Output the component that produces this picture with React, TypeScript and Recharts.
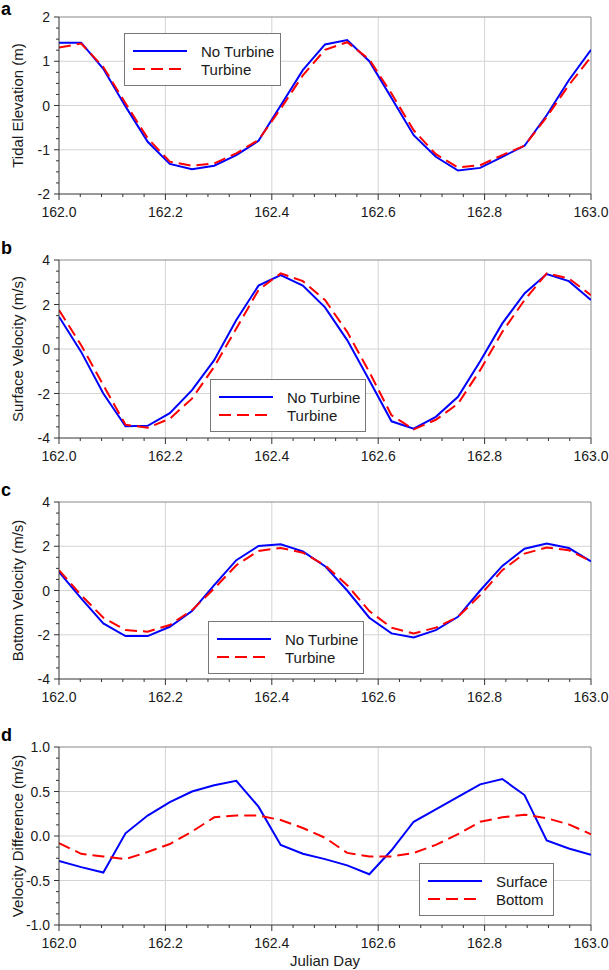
import React from 'react'
import { LineChart, Line, XAxis, YAxis, ReferenceLine } from 'recharts'

// hourly samples over Julian day 162
const julianDay = [
  162.0, 162.0417, 162.0833, 162.125, 162.1667, 162.2083, 162.25, 162.2917, 162.3333,
  162.375, 162.4167, 162.4583, 162.5, 162.5417, 162.5833, 162.625, 162.6667, 162.7083,
  162.75, 162.7917, 162.8333, 162.875, 162.9167, 162.9583, 163.0
]

const elevNoTurbine = [1.42, 1.42, 0.83, -0.02, -0.82, -1.32, -1.44, -1.36, -1.12, -0.8, 0.0, 0.8, 1.38, 1.48, 1.0, 0.17, -0.67, -1.16, -1.47, -1.41, -1.16, -0.91, -0.22, 0.57, 1.26]
const elevTurbine = [1.31, 1.4, 0.87, 0.05, -0.74, -1.27, -1.36, -1.31, -1.08, -0.78, -0.07, 0.68, 1.26, 1.43, 1.04, 0.27, -0.56, -1.1, -1.4, -1.35, -1.12, -0.91, -0.26, 0.46, 1.1]

const surfNoTurbine = [1.45, -0.13, -2.0, -3.47, -3.45, -2.88, -1.85, -0.5, 1.3, 2.85, 3.32, 2.85, 1.87, 0.4, -1.4, -3.25, -3.58, -3.05, -2.15, -0.55, 1.15, 2.5, 3.37, 3.05, 2.2]
const surfTurbine = [1.75, 0.17, -1.63, -3.4, -3.54, -3.13, -2.23, -0.8, 0.92, 2.65, 3.4, 3.05, 2.2, 0.77, -1.03, -2.98, -3.61, -3.18, -2.46, -0.95, 0.77, 2.2, 3.4, 3.17, 2.42]

const bottomNoTurbine = [0.84, -0.36, -1.49, -2.06, -2.06, -1.64, -0.93, 0.24, 1.37, 2.01, 2.09, 1.77, 1.1, 0.0, -1.23, -1.94, -2.12, -1.79, -1.19, 0.0, 1.11, 1.89, 2.12, 1.92, 1.32]
const bottomTurbine = [0.92, -0.21, -1.23, -1.79, -1.86, -1.56, -0.89, 0.09, 1.14, 1.79, 1.92, 1.71, 1.14, 0.24, -0.93, -1.68, -1.94, -1.68, -1.19, -0.21, 0.92, 1.67, 1.94, 1.82, 1.32]

const diffSurface = [-0.28, -0.35, -0.41, 0.03, 0.23, 0.38, 0.5, 0.57, 0.62, 0.33, -0.1, -0.2, -0.26, -0.33, -0.43, -0.16, 0.16, 0.3, 0.44, 0.58, 0.64, 0.46, -0.05, -0.14, -0.21]
const diffBottom = [-0.08, -0.2, -0.23, -0.26, -0.18, -0.09, 0.05, 0.21, 0.23, 0.23, 0.18, 0.09, -0.02, -0.19, -0.23, -0.23, -0.19, -0.1, 0.02, 0.16, 0.21, 0.24, 0.2, 0.13, 0.02]

const xMajorTicks = [162.0, 162.2, 162.4, 162.6, 162.8, 163.0]
const elevTicks = [-2, -1, 0, 1, 2]
const velTicks = [-4, -2, 0, 2, 4]
const diffTicks = [-1.0, -0.5, 0.0, 0.5, 1.0]

const FONT = '"Liberation Sans", Arial, sans-serif'
const BLUE = '#0000ff'
const RED = '#ff0000'
const DASH = '12 6'

function steps(lo: number, hi: number, step: number) {
  const out: number[] = []
  const n = Math.round((hi - lo) / step)
  for (let i = 0; i <= n; i++) out.push(+(lo + i * step).toFixed(4))
  return out
}

const isMajor = (majors: number[], v: number) => majors.some((m) => Math.abs(m - v) < 1e-6)

function makeXTick(majors: number[]) {
  return (props: any) => {
    const { x, y, payload } = props
    const major = isMajor(majors, payload.value)
    return (
      <g>
        <line x1={x} x2={x} y1={y} y2={y + (major ? 6 : 3)} stroke="#333" />
        {major && (
          <text x={x} y={y + 18} dy={5} textAnchor="middle" fontSize={14} fontFamily={FONT} fill="#1a1a1a">
            {payload.value.toFixed(1)}
          </text>
        )}
      </g>
    )
  }
}

function makeYTick(majors: number[], digits: number) {
  return (props: any) => {
    const { x, y, payload } = props
    const major = isMajor(majors, payload.value)
    return (
      <g>
        <line x1={x} x2={x - (major ? 5 : 3)} y1={y} y2={y} stroke="#333" />
        {major && (
          <text x={x - 9} y={y} dy={5} textAnchor="end" fontSize={14} fontFamily={FONT} fill="#1a1a1a">
            {payload.value.toFixed(digits)}
          </text>
        )}
      </g>
    )
  }
}

interface SeriesDef {
  key: string
  name: string
  values: number[]
  color: string
  dash?: string
}

interface PanelProps {
  letter: string
  yLabel: string
  series: SeriesDef[]
  yMajor: number[]
  yMinorStep: number
  digits: number
  plotTop: number
  plotHeight: number
  legend: { left: number; top: number; width: number }
  xLabel?: string
}

function Panel({ letter, yLabel, series, yMajor, yMinorStep, digits, plotTop, plotHeight, legend, xLabel }: PanelProps) {
  const data = julianDay.map((d, i) => {
    const row: Record<string, number> = { day: d }
    series.forEach((s) => (row[s.key] = s.values[i]))
    return row
  })
  const yMin = yMajor[0]
  const yMax = yMajor[yMajor.length - 1]
  const top = plotTop - 10
  return (
    <>
      <div
        style={{
          position: 'absolute', left: 1, top: Math.max(plotTop - 21, 0), fontFamily: FONT,
          fontWeight: 'bold', fontSize: 18, lineHeight: '18px', color: '#000'
        }}
      >
        {letter}
      </div>
      <div style={{ position: 'absolute', left: 0, top }}>
        <LineChart
          width={609}
          height={10 + plotHeight + 50}
          data={data}
          margin={{ top: 10, right: 18, bottom: 0, left: 0 }}
        >
          <XAxis
            dataKey="day"
            type="number"
            domain={[162, 163]}
            ticks={steps(162, 163, 0.04)}
            interval={0}
            allowDataOverflow
            height={50}
            tickSize={0}
            tickMargin={0}
            tickLine={false}
            axisLine={{ stroke: '#333' }}
            tick={makeXTick(xMajorTicks)}
            label={
              xLabel
                ? {
                    content: (p: any) => {
                      const vb = p.viewBox
                      return (
                        <text x={vb.x + vb.width / 2} y={vb.y + 36} dy={5} textAnchor="middle" fontSize={15} fontFamily={FONT} fill="#1a1a1a">
                          {xLabel}
                        </text>
                      )
                    }
                  }
                : undefined
            }
          />
          <YAxis
            type="number"
            domain={[yMin, yMax]}
            ticks={steps(yMin, yMax, yMinorStep)}
            interval={0}
            allowDataOverflow
            width={59}
            tickSize={0}
            tickMargin={0}
            tickLine={false}
            axisLine={{ stroke: '#333' }}
            tick={makeYTick(yMajor, digits)}
            label={{
              content: (p: any) => {
                const vb = p.viewBox
                const cx = 18
                const cy = vb.y + vb.height / 2
                return (
                  <text x={cx} y={cy} dy={5} textAnchor="middle" transform={`rotate(-90 ${cx} ${cy})`} fontSize={15} fontFamily={FONT} fill="#1a1a1a">
                    {yLabel}
                  </text>
                )
              }
            }}
          />
          {xMajorTicks.slice(1, -1).map((v) => (
            <ReferenceLine key={'gx' + v} x={v} stroke="#d4d4d4" />
          ))}
          {yMajor.slice(1, -1).map((v) => (
            <ReferenceLine key={'gy' + v} y={v} stroke="#d4d4d4" />
          ))}
          <ReferenceLine y={yMax} stroke="#888" />
          <ReferenceLine x={163} stroke="#888" />
          {series.map((s) => (
            <Line
              key={s.key}
              dataKey={s.key}
              name={s.name}
              type="linear"
              stroke={s.color}
              strokeWidth={2}
              strokeDasharray={s.dash}
              dot={false}
              activeDot={false}
              isAnimationActive={false}
            />
          ))}
        </LineChart>
      </div>
      <div
        style={{
          position: 'absolute', left: legend.left, top: legend.top, width: legend.width, height: 53,
          boxSizing: 'border-box', border: '1px solid #777', background: '#fff', fontFamily: FONT, fontSize: 15
        }}
      >
        {series.map((s, i) => (
          <div key={s.key} style={{ position: 'absolute', left: 7, top: 8 + i * 18, height: 18, display: 'flex', alignItems: 'center' }}>
            <svg width={56} height={18}>
              <line x1={1} x2={55} y1={9} y2={9} stroke={s.color} strokeWidth={2} strokeDasharray={s.dash} />
            </svg>
            <span style={{ marginLeft: 13, color: '#1a1a1a' }}>{s.name}</span>
          </div>
        ))}
      </div>
    </>
  )
}

export default function App() {
  return (
    <div style={{ position: 'absolute', left: 0, top: 0, width: 609, height: 970, background: '#fff' }}>
      <Panel
        letter="a"
        yLabel="Tidal Elevation (m)"
        series={[
          { key: 'noTurbine', name: 'No Turbine', values: elevNoTurbine, color: BLUE },
          { key: 'turbine', name: 'Turbine', values: elevTurbine, color: RED, dash: DASH }
        ]}
        yMajor={elevTicks}
        yMinorStep={0.25}
        digits={0}
        plotTop={17}
        plotHeight={177}
        legend={{ left: 124, top: 33, width: 157 }}
      />
      <Panel
        letter="b"
        yLabel="Surface Velocity (m/s)"
        series={[
          { key: 'noTurbine', name: 'No Turbine', values: surfNoTurbine, color: BLUE },
          { key: 'turbine', name: 'Turbine', values: surfTurbine, color: RED, dash: DASH }
        ]}
        yMajor={velTicks}
        yMinorStep={0.5}
        digits={0}
        plotTop={260}
        plotHeight={178}
        legend={{ left: 210, top: 379, width: 156 }}
      />
      <Panel
        letter="c"
        yLabel="Bottom Velocity (m/s)"
        series={[
          { key: 'noTurbine', name: 'No Turbine', values: bottomNoTurbine, color: BLUE },
          { key: 'turbine', name: 'Turbine', values: bottomTurbine, color: RED, dash: DASH }
        ]}
        yMajor={velTicks}
        yMinorStep={0.5}
        digits={0}
        plotTop={502}
        plotHeight={177}
        legend={{ left: 208, top: 621, width: 156 }}
      />
      <Panel
        letter="d"
        yLabel="Velocity Difference (m/s)"
        series={[
          { key: 'surface', name: 'Surface', values: diffSurface, color: BLUE },
          { key: 'bottom', name: 'Bottom', values: diffBottom, color: RED, dash: DASH }
        ]}
        yMajor={diffTicks}
        yMinorStep={0.125}
        digits={1}
        plotTop={747}
        plotHeight={178}
        legend={{ left: 419, top: 863, width: 135 }}
        xLabel="Julian Day"
      />
    </div>
  )
}
